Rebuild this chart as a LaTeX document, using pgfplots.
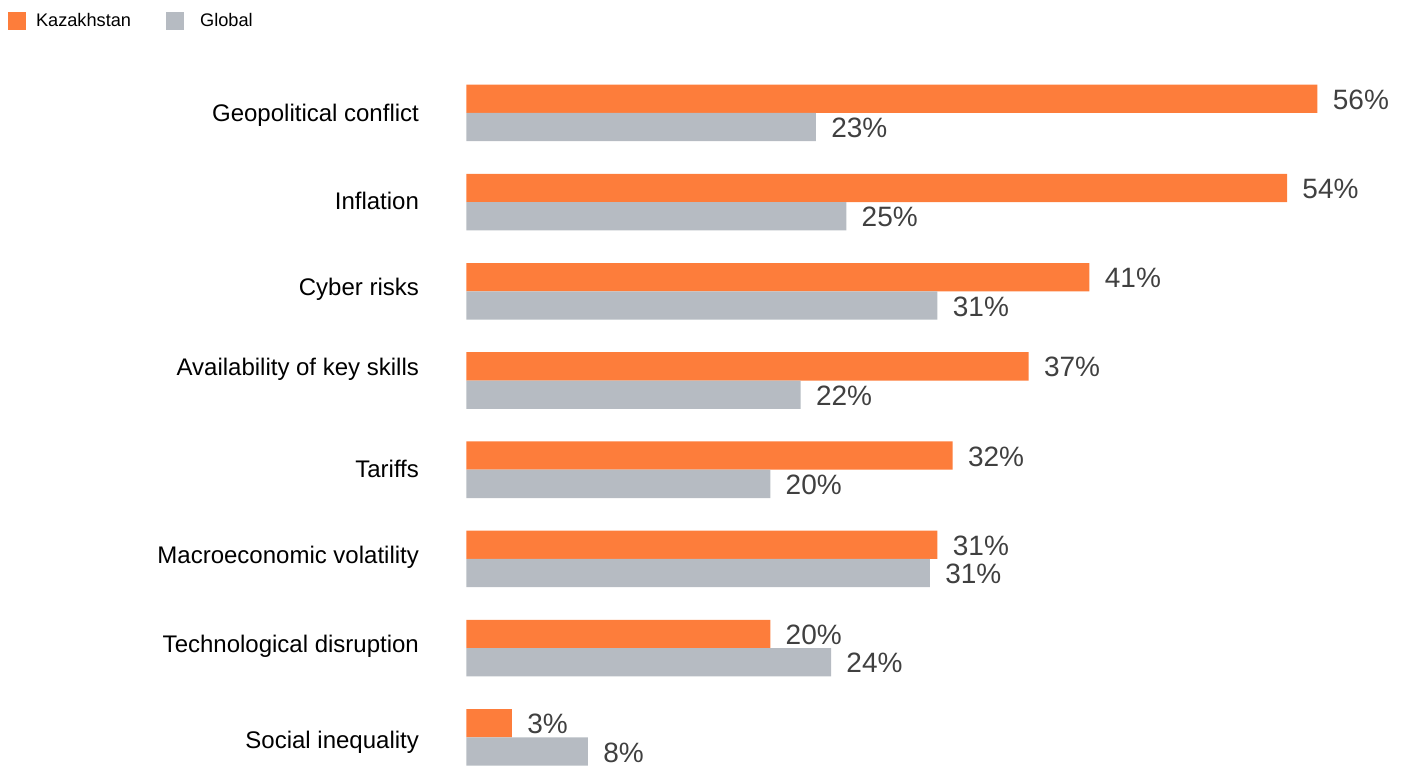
\documentclass[border=0pt]{standalone}
\usepackage{pgfplots}
\pgfplotsset{compat=1.18}
\usepackage{fontspec}
\setmainfont{Liberation Sans}
\definecolor{kzorange}{HTML}{FD7D3B}
\definecolor{glgray}{HTML}{B6BBC2}
\definecolor{valtext}{HTML}{404040}
\begin{document}
\begin{tikzpicture}
\useasboundingbox (0,0) rectangle (702.5pt,-383pt);
\begin{axis}[
  at={(233.15pt,-390.95pt)}, anchor=south west,
  scale only axis, width=456pt, height=356.8pt,
  xmin=0, xmax=60, ymin=-0.5, ymax=7.5,
  axis line style={draw=none},
  hide x axis,
  xbar, bar width=14.15pt,
  ytick={0,1,2,3,4,5,6,7},
  yticklabels={\raisebox{-1.2pt}{Social inequality},\raisebox{2.3pt}{Technological disruption},\raisebox{2pt}{Macroeconomic volatility},\raisebox{0.5pt}{Tariffs},\raisebox{6.9pt}{Availability of key skills},\raisebox{2.25pt}{Cyber risks},\raisebox{0.85pt}{Inflation},Geopolitical conflict},
  major tick length=0pt,
  ytick style={draw=none},
  yticklabel style={font=\fontsize{12pt}{14pt}\selectfont, text=black, anchor=base east, inner sep=0pt, xshift=-23.5pt, yshift=-4.5pt},
  point meta=explicit,
  nodes near coords={\pgfmathprintnumber[assume math mode=true]{\pgfplotspointmeta}\%},
  every node near coord/.append style={font=\fontsize{14pt}{16pt}\selectfont, text=valtext, anchor=base west, inner sep=0pt, xshift=7.5pt, yshift=-5.3pt},
  legend columns=2,
  legend style={at={(-0.5025,1.0789)}, anchor=north west, draw=none, fill=none, inner sep=0pt, outer sep=0pt,
    font=\fontsize{9.1pt}{11pt}\selectfont,
    nodes={inner sep=0pt},
    /tikz/every odd column/.append style={column sep=5pt},
    /tikz/every even column/.append style={column sep=17.5pt}},
  legend image code/.code={\fill[#1] (0pt,-4.5pt) rectangle (9pt,4.5pt);},
]
\addplot[fill=kzorange, draw=none, bar shift=7.075pt] coordinates {
(56,7) [56] (54,6) [54] (41,5) [41] (37,4) [37] (32,3) [32] (31,2) [31] (20,1) [20] (3,0) [3]};
\addlegendentry{Kazakhstan}
\addplot[fill=glgray, draw=none, bar shift=-7.075pt] coordinates {
(23,7) [23] (25,6) [25] (31,5) [31] (22,4) [22] (20,3) [20] (30.5,2) [31] (24,1) [24] (8,0) [8]};
\addlegendentry{\hspace{3pt}Global}
\end{axis}
\end{tikzpicture}
\end{document}
